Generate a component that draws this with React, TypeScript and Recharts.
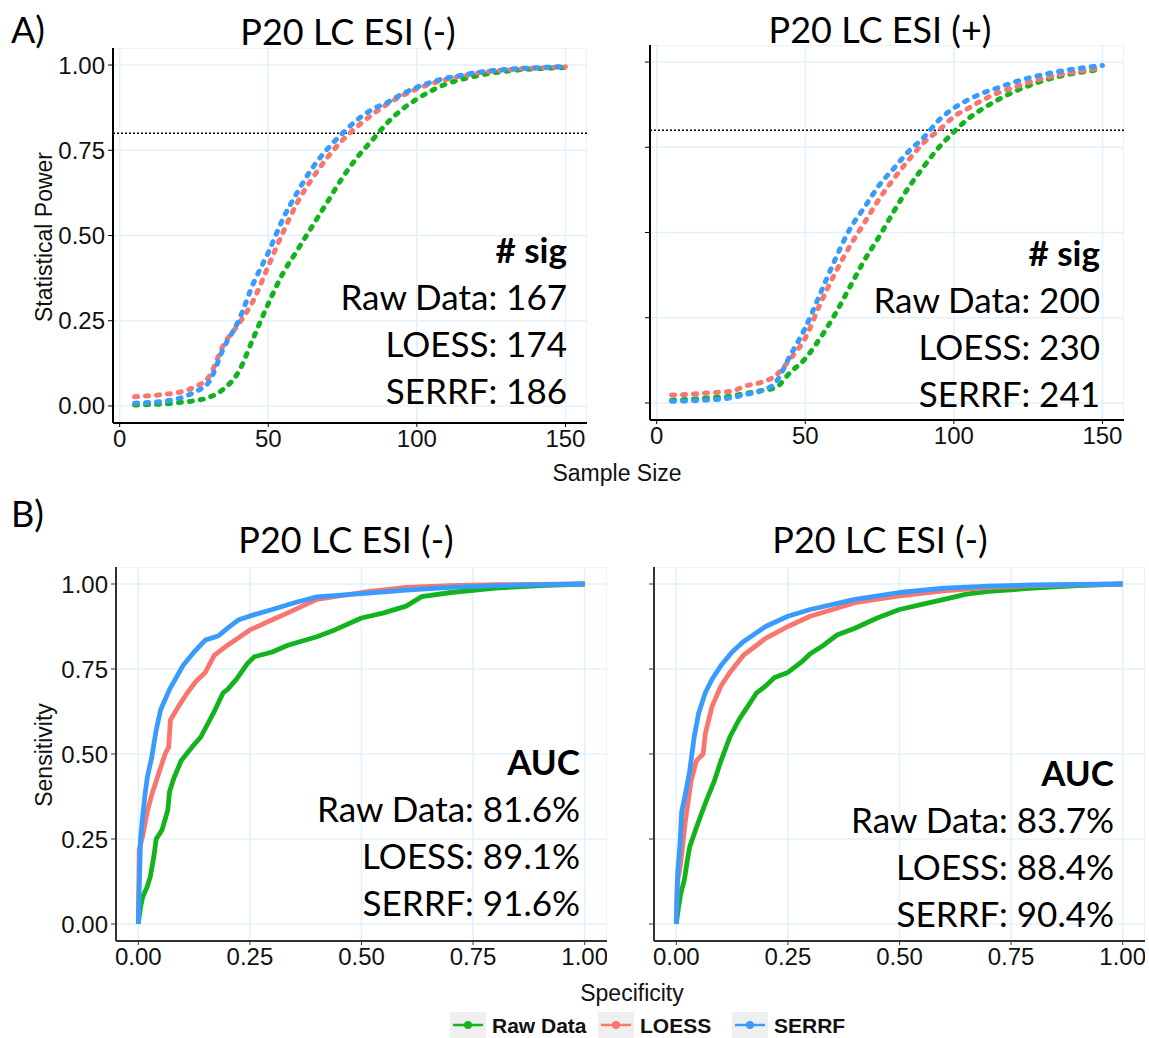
import { LineChart, Line, XAxis, YAxis, CartesianGrid, ReferenceLine } from 'recharts'

// sample sizes for the power curves
const sampleSizes = [5, 10, 15, 20, 25, 30, 35, 40, 45, 50, 55, 60, 65, 70, 75, 80, 85, 90, 95, 100, 105, 110, 115, 120, 125, 130, 135, 140, 145, 150]

// P20 LC ESI (-) power
const powerNegRaw = [0.003, 0.004, 0.006, 0.01, 0.015, 0.025, 0.05, 0.1, 0.2, 0.3, 0.39, 0.46, 0.53, 0.6, 0.67, 0.73, 0.78, 0.83, 0.87, 0.9, 0.925, 0.945, 0.958, 0.968, 0.976, 0.982, 0.986, 0.989, 0.991, 0.993]
const powerNegLoess = [0.027, 0.03, 0.034, 0.04, 0.055, 0.085, 0.18, 0.24, 0.31, 0.41, 0.51, 0.6, 0.67, 0.73, 0.78, 0.82, 0.855, 0.885, 0.91, 0.93, 0.946, 0.958, 0.968, 0.976, 0.982, 0.986, 0.989, 0.991, 0.993, 0.995]
const powerNegSerrf = [0.008, 0.01, 0.014, 0.022, 0.04, 0.07, 0.17, 0.25, 0.36, 0.45, 0.55, 0.63, 0.7, 0.755, 0.8, 0.84, 0.87, 0.89, 0.915, 0.935, 0.95, 0.962, 0.97, 0.978, 0.983, 0.987, 0.99, 0.992, 0.994, 0.996]

// P20 LC ESI (+) power
const powerPosRaw = [0.008, 0.01, 0.013, 0.016, 0.02, 0.028, 0.036, 0.045, 0.09, 0.13, 0.19, 0.26, 0.34, 0.42, 0.49, 0.565, 0.635, 0.695, 0.75, 0.795, 0.835, 0.865, 0.89, 0.912, 0.93, 0.945, 0.957, 0.966, 0.973, 0.978]
const powerPosLoess = [0.023, 0.025, 0.028, 0.031, 0.034, 0.05, 0.06, 0.08, 0.13, 0.19, 0.29, 0.38, 0.46, 0.53, 0.6, 0.66, 0.715, 0.765, 0.8, 0.84, 0.865, 0.89, 0.91, 0.925, 0.94, 0.952, 0.962, 0.97, 0.977, 0.983]
const powerPosSerrf = [0.005, 0.006, 0.008, 0.01, 0.015, 0.025, 0.035, 0.06, 0.14, 0.22, 0.32, 0.42, 0.51, 0.575, 0.64, 0.69, 0.74, 0.78, 0.83, 0.865, 0.89, 0.91, 0.925, 0.94, 0.953, 0.963, 0.972, 0.979, 0.985, 0.99]

// ROC curves: [specificity axis, sensitivity]
const rocNegRaw: [number, number][] = [[0, 0], [0.005, 0.05], [0.01, 0.08], [0.02, 0.11], [0.027, 0.14], [0.035, 0.2], [0.04, 0.25], [0.053, 0.276], [0.066, 0.335], [0.07, 0.39], [0.08, 0.43], [0.096, 0.48], [0.12, 0.52], [0.14, 0.55], [0.16, 0.6], [0.172, 0.63], [0.19, 0.68], [0.2, 0.69], [0.22, 0.72], [0.245, 0.767], [0.26, 0.786], [0.3, 0.8], [0.335, 0.82], [0.4, 0.845], [0.44, 0.865], [0.5, 0.9], [0.55, 0.915], [0.6, 0.935], [0.635, 0.963], [0.7, 0.975], [0.8, 0.988], [0.9, 0.995], [1, 1]]
const rocNegLoess: [number, number][] = [[0, 0], [0.002, 0.22], [0.01, 0.26], [0.02, 0.33], [0.03, 0.38], [0.04, 0.42], [0.06, 0.5], [0.068, 0.52], [0.072, 0.6], [0.09, 0.64], [0.11, 0.68], [0.13, 0.715], [0.15, 0.74], [0.17, 0.79], [0.2, 0.82], [0.25, 0.865], [0.3, 0.895], [0.335, 0.915], [0.4, 0.955], [0.5, 0.975], [0.6, 0.99], [0.7, 0.995], [0.8, 0.998], [1, 1]]
const rocNegSerrf: [number, number][] = [[0, 0], [0.002, 0.1], [0.005, 0.25], [0.01, 0.32], [0.015, 0.38], [0.02, 0.43], [0.03, 0.49], [0.04, 0.57], [0.05, 0.63], [0.07, 0.69], [0.1, 0.76], [0.125, 0.8], [0.15, 0.835], [0.18, 0.848], [0.2, 0.87], [0.225, 0.895], [0.26, 0.91], [0.3, 0.925], [0.35, 0.945], [0.4, 0.962], [0.5, 0.972], [0.6, 0.982], [0.7, 0.99], [0.8, 0.995], [0.9, 0.998], [1, 1]]

const rocPosRaw: [number, number][] = [[0, 0], [0.005, 0.05], [0.01, 0.09], [0.018, 0.13], [0.025, 0.19], [0.03, 0.227], [0.043, 0.276], [0.055, 0.32], [0.068, 0.365], [0.085, 0.42], [0.1, 0.48], [0.12, 0.55], [0.14, 0.6], [0.16, 0.64], [0.18, 0.68], [0.2, 0.7], [0.22, 0.725], [0.25, 0.74], [0.28, 0.77], [0.3, 0.795], [0.33, 0.82], [0.36, 0.85], [0.4, 0.87], [0.45, 0.9], [0.5, 0.925], [0.55, 0.94], [0.6, 0.955], [0.65, 0.97], [0.7, 0.978], [0.8, 0.988], [0.9, 0.995], [1, 1]]
const rocPosLoess: [number, number][] = [[0, 0], [0.002, 0.12], [0.01, 0.18], [0.02, 0.3], [0.033, 0.42], [0.045, 0.48], [0.06, 0.5], [0.065, 0.56], [0.08, 0.64], [0.1, 0.7], [0.12, 0.74], [0.15, 0.79], [0.2, 0.84], [0.25, 0.875], [0.3, 0.905], [0.35, 0.925], [0.4, 0.945], [0.5, 0.965], [0.6, 0.98], [0.7, 0.99], [0.8, 0.995], [1, 1]]
const rocPosSerrf: [number, number][] = [[0, 0], [0.003, 0.15], [0.008, 0.23], [0.012, 0.33], [0.02, 0.38], [0.03, 0.45], [0.04, 0.55], [0.05, 0.62], [0.065, 0.68], [0.08, 0.72], [0.1, 0.76], [0.125, 0.8], [0.15, 0.83], [0.2, 0.875], [0.25, 0.905], [0.3, 0.925], [0.4, 0.955], [0.5, 0.975], [0.6, 0.988], [0.7, 0.994], [0.8, 0.997], [1, 1]]

const methods = ['Raw Data', 'LOESS', 'SERRF']
const sigNeg = [167, 174, 186]
const sigPos = [200, 230, 241]
const aucNeg = ['81.6%', '89.1%', '91.6%']
const aucPos = ['83.7%', '88.4%', '90.4%']

const powerTicks = [0, 50, 100, 150]
const unitTicks = [0, 0.25, 0.5, 0.75, 1]

const GREEN = '#12B31C'
const RED = '#F8766D'
const BLUE = '#3A9BFF'
const colors = [GREEN, RED, BLUE]
const GRID = '#E3F0FD'
const SANS = '"Liberation Sans", Arial, sans-serif'
const CAL = 'Lato, "Open Sans", sans-serif'

const tickStyle = { fontFamily: SANS, fontSize: 24, fill: '#111' }

function powerRows(raw: number[], loess: number[], serrf: number[]) {
  return sampleSizes.map((x, i) => ({ x, raw: raw[i], loess: loess[i], serrf: serrf[i] }))
}

function rocRows(pts: [number, number][]) {
  return pts.map(([x, y]) => ({ x, y }))
}

function PowerPanel({ left, top, rows, showY }: any) {
  return (
    <div style={{ position: 'absolute', left, top }}>
      <LineChart width={534} height={415} data={rows} margin={{ top: 0, right: 0, bottom: 0, left: 0 }}>
        <CartesianGrid stroke={GRID} strokeWidth={1.6} />
        <XAxis
          type="number" dataKey="x" domain={[-2.25, 157.25]} ticks={powerTicks} interval={0}
          height={40} tickSize={4} tickMargin={3} tick={tickStyle}
          axisLine={{ stroke: '#000', strokeWidth: 2 }} tickLine={{ stroke: '#000' }}
        />
        <YAxis
          type="number" domain={[-0.05, 1.05]} ticks={unitTicks} interval={0} width={60}
          tickSize={5} tickMargin={3} tick={tickStyle}
          tickFormatter={(v: number) => (showY ? v.toFixed(2) : '')}
          axisLine={{ stroke: '#000', strokeWidth: 2 }} tickLine={{ stroke: '#000' }}
        />
        <ReferenceLine y={0.8} stroke="#000" strokeDasharray="2 2" strokeWidth={1.6} />
        {['raw', 'loess', 'serrf'].map((k, i) => (
          <Line key={k} dataKey={k} type="monotone" stroke={colors[i]} strokeWidth={5}
            strokeDasharray="3 8" strokeLinecap="round" dot={false} activeDot={false} isAnimationActive={false} />
        ))}
      </LineChart>
    </div>
  )
}

function RocPanel({ left, top, series, showY }: any) {
  return (
    <div style={{ position: 'absolute', left, top }}>
      <LineChart width={551} height={414} margin={{ top: 0, right: 0, bottom: 0, left: 0 }}>
        <CartesianGrid stroke={GRID} strokeWidth={1.6} />
        <XAxis
          type="number" dataKey="x" domain={[-0.05, 1.05]} ticks={unitTicks} interval={0}
          height={40} tickSize={4} tickMargin={3} tick={tickStyle}
          tickFormatter={(v: number) => v.toFixed(2)}
          axisLine={{ stroke: '#333', strokeWidth: 2 }} tickLine={{ stroke: '#333' }}
        />
        <YAxis
          type="number" domain={[-0.05, 1.05]} ticks={unitTicks} interval={0} width={60}
          tickSize={5} tickMargin={3} tick={tickStyle}
          tickFormatter={(v: number) => (showY ? v.toFixed(2) : '')}
          axisLine={{ stroke: '#333', strokeWidth: 2 }} tickLine={{ stroke: '#333' }}
        />
        {series.map((pts: [number, number][], i: number) => (
          <Line key={i} data={rocRows(pts)} dataKey="y" type="linear" stroke={colors[i]} strokeWidth={4.8}
            strokeLinejoin="round" dot={false} activeDot={false} isAnimationActive={false} />
        ))}
      </LineChart>
    </div>
  )
}

function Notes({ right, baseline, head, lines }: { right: number, baseline: number, head: string, lines: string[] }) {
  return (
    <g fontFamily={CAL} fontSize={35} textAnchor="end" fill="#000">
      <text x={right} y={baseline} fontWeight={700}>{head}</text>
      {lines.map((t, i) => (
        <text key={i} x={right} y={baseline + 47 * (i + 1)}>{t}</text>
      ))}
    </g>
  )
}

export default function App() {
  const legendX = [450, 598, 732]
  return (
    <div style={{ position: 'absolute', left: 0, top: 0, width: 1149, height: 1038, background: '#fff', overflow: 'hidden' }}>
      <PowerPanel left={53} top={48} rows={powerRows(powerNegRaw, powerNegLoess, powerNegSerrf)} showY />
      <PowerPanel left={590} top={45} rows={powerRows(powerPosRaw, powerPosLoess, powerPosSerrf)} showY={false} />
      <RocPanel left={56} top={567} series={[rocNegRaw, rocNegLoess, rocNegSerrf]} showY />
      <RocPanel left={594} top={567} series={[rocPosRaw, rocPosLoess, rocPosSerrf]} showY={false} />

      <svg width={1149} height={1038} style={{ position: 'absolute', left: 0, top: 0, pointerEvents: 'none' }}>
        <g fontFamily={CAL} fontSize={36} fill="#000">
          <text x={11} y={43}>A)</text>
          <text x={11} y={527}>B)</text>
          <text x={348} y={45} textAnchor="middle">P20 LC ESI (-)</text>
          <text x={880} y={43} textAnchor="middle">P20 LC ESI (+)</text>
          <text x={346} y={553} textAnchor="middle">P20 LC ESI (-)</text>
          <text x={880} y={553} textAnchor="middle">P20 LC ESI (-)</text>
        </g>

        <Notes right={567} baseline={263} head="# sig" lines={methods.map((m, i) => `${m}: ${sigNeg[i]}`)} />
        <Notes right={1100} baseline={266} head="# sig" lines={methods.map((m, i) => `${m}: ${sigPos[i]}`)} />
        <Notes right={580} baseline={775} head="AUC" lines={methods.map((m, i) => `${m}: ${aucNeg[i]}`)} />
        <Notes right={1114} baseline={786} head="AUC" lines={methods.map((m, i) => `${m}: ${aucPos[i]}`)} />

        <g fontFamily={SANS} fontSize={23} fill="#111" textAnchor="middle">
          <text transform="translate(52,237) rotate(-90)">Statistical Power</text>
          <text transform="translate(52,755) rotate(-90)">Sensitivity</text>
          <text x={617} y={481}>Sample Size</text>
          <text x={632} y={1001}>Specificity</text>
        </g>

        {methods.map((m, i) => (
          <g key={m}>
            <rect x={legendX[i]} y={1012} width={36} height={28} fill="#EFEFEF" />
            <line x1={legendX[i] + 3} x2={legendX[i] + 33} y1={1025} y2={1025} stroke={colors[i]} strokeWidth={2.5} />
            <circle cx={legendX[i] + 18} cy={1025} r={4} fill={colors[i]} />
            <text x={legendX[i] + 42} y={1033} fontFamily={SANS} fontSize={21} fontWeight={700} fill="#111">{m}</text>
          </g>
        ))}
      </svg>
    </div>
  )
}
